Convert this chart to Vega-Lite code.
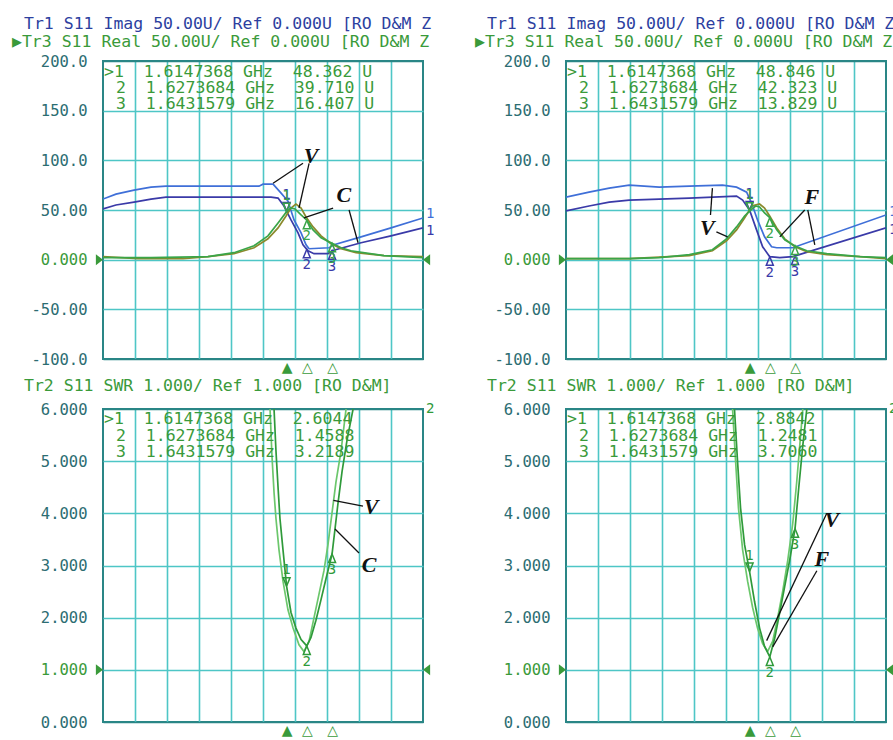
{
  "$schema": "https://vega.github.io/schema/vega-lite/v6.json",
  "background": "white",
  "padding": {"left": 11, "top": 15, "right": 0, "bottom": 0},
  "config": {
    "view": {"stroke": "#2a8686", "strokeWidth": 2},
    "axis": {"ticks": false, "domain": false, "gridWidth": 1.6, "gridOpacity": 1, "gridColor": "#4ec6c6", "labelFont": "DejaVu Sans Mono", "labelFontSize": 15.5, "labelFlush": false, "labelOverlap": false},
    "title": {"anchor": "start", "frame": "group", "dx": -91, "offset": 4, "font": "DejaVu Sans Mono", "fontSize": 16.5, "fontWeight": "normal", "color": "#2d3f9f", "subtitleFont": "DejaVu Sans Mono", "subtitleFontSize": 16.5, "subtitleFontWeight": "normal", "subtitleColor": "#3a9a3a", "subtitlePadding": 1},
    "text": {"font": "DejaVu Sans Mono"}
  },
  "datasets": {
    "traces": [
      {"p":"L1","s":"Imag V","f":1.5,"v":61},{"p":"L1","s":"Imag V","f":1.5081,"v":66},{"p":"L1","s":"Imag V","f":1.5194,"v":70},{"p":"L1","s":"Imag V","f":1.53,"v":73},{"p":"L1","s":"Imag V","f":1.5394,"v":74},{"p":"L1","s":"Imag V","f":1.5613,"v":74},{"p":"L1","s":"Imag V","f":1.5975,"v":74},{"p":"L1","s":"Imag V","f":1.6,"v":76},{"p":"L1","s":"Imag V","f":1.6063,"v":76},{"p":"L1","s":"Imag V","f":1.6113,"v":67},{"p":"L1","s":"Imag V","f":1.6156,"v":59},{"p":"L1","s":"Imag V","f":1.6194,"v":40},{"p":"L1","s":"Imag V","f":1.6238,"v":27},{"p":"L1","s":"Imag V","f":1.6269,"v":15},{"p":"L1","s":"Imag V","f":1.6288,"v":11},{"p":"L1","s":"Imag V","f":1.6413,"v":12},{"p":"L1","s":"Imag V","f":1.6444,"v":15},{"p":"L1","s":"Imag V","f":1.6613,"v":23},{"p":"L1","s":"Imag V","f":1.68,"v":32},{"p":"L1","s":"Imag V","f":1.7,"v":42},
      {"p":"L1","s":"Imag C","f":1.5,"v":51},{"p":"L1","s":"Imag C","f":1.5081,"v":55},{"p":"L1","s":"Imag C","f":1.5194,"v":58},{"p":"L1","s":"Imag C","f":1.53,"v":61},{"p":"L1","s":"Imag C","f":1.5394,"v":63},{"p":"L1","s":"Imag C","f":1.605,"v":63},{"p":"L1","s":"Imag C","f":1.6094,"v":62},{"p":"L1","s":"Imag C","f":1.6131,"v":54},{"p":"L1","s":"Imag C","f":1.6175,"v":40},{"p":"L1","s":"Imag C","f":1.6219,"v":27},{"p":"L1","s":"Imag C","f":1.625,"v":15},{"p":"L1","s":"Imag C","f":1.6281,"v":9},{"p":"L1","s":"Imag C","f":1.6319,"v":6},{"p":"L1","s":"Imag C","f":1.6406,"v":6},{"p":"L1","s":"Imag C","f":1.6431,"v":9},{"p":"L1","s":"Imag C","f":1.6613,"v":17},{"p":"L1","s":"Imag C","f":1.68,"v":24},{"p":"L1","s":"Imag C","f":1.7,"v":32},
      {"p":"L1","s":"Real V","f":1.5,"v":3},{"p":"L1","s":"Real V","f":1.5219,"v":1},{"p":"L1","s":"Real V","f":1.55,"v":1},{"p":"L1","s":"Real V","f":1.5656,"v":3},{"p":"L1","s":"Real V","f":1.5819,"v":6},{"p":"L1","s":"Real V","f":1.5944,"v":12},{"p":"L1","s":"Real V","f":1.6031,"v":21},{"p":"L1","s":"Real V","f":1.6094,"v":32},{"p":"L1","s":"Real V","f":1.6144,"v":44},{"p":"L1","s":"Real V","f":1.6175,"v":52},{"p":"L1","s":"Real V","f":1.6206,"v":56},{"p":"L1","s":"Real V","f":1.6238,"v":52},{"p":"L1","s":"Real V","f":1.6269,"v":43},{"p":"L1","s":"Real V","f":1.6313,"v":33},{"p":"L1","s":"Real V","f":1.6363,"v":24},{"p":"L1","s":"Real V","f":1.6425,"v":16},{"p":"L1","s":"Real V","f":1.6488,"v":11},{"p":"L1","s":"Real V","f":1.6581,"v":7},{"p":"L1","s":"Real V","f":1.6756,"v":4},{"p":"L1","s":"Real V","f":1.7,"v":3},
      {"p":"L1","s":"Real C","f":1.5,"v":2},{"p":"L1","s":"Real C","f":1.53,"v":2},{"p":"L1","s":"Real C","f":1.5656,"v":3},{"p":"L1","s":"Real C","f":1.5819,"v":7},{"p":"L1","s":"Real C","f":1.5944,"v":14},{"p":"L1","s":"Real C","f":1.6031,"v":24},{"p":"L1","s":"Real C","f":1.6094,"v":37},{"p":"L1","s":"Real C","f":1.6147368,"v":48.362},{"p":"L1","s":"Real C","f":1.6175,"v":52},{"p":"L1","s":"Real C","f":1.62,"v":51},{"p":"L1","s":"Real C","f":1.6238,"v":45},{"p":"L1","s":"Real C","f":1.6273684,"v":39.71},{"p":"L1","s":"Real C","f":1.6313,"v":30},{"p":"L1","s":"Real C","f":1.6363,"v":22},{"p":"L1","s":"Real C","f":1.6431579,"v":16.407},{"p":"L1","s":"Real C","f":1.6488,"v":12},{"p":"L1","s":"Real C","f":1.655,"v":9},{"p":"L1","s":"Real C","f":1.6756,"v":4},{"p":"L1","s":"Real C","f":1.7,"v":2},
      {"p":"L2","s":"SWR V","f":1.6044,"v":6.0},{"p":"L2","s":"SWR V","f":1.6056,"v":5.1},{"p":"L2","s":"SWR V","f":1.6069,"v":4.4},{"p":"L2","s":"SWR V","f":1.6081,"v":3.9},{"p":"L2","s":"SWR V","f":1.61,"v":3.3},{"p":"L2","s":"SWR V","f":1.6125,"v":2.7},{"p":"L2","s":"SWR V","f":1.6156,"v":2.15},{"p":"L2","s":"SWR V","f":1.6188,"v":1.8},{"p":"L2","s":"SWR V","f":1.6225,"v":1.48},{"p":"L2","s":"SWR V","f":1.6256,"v":1.35},{"p":"L2","s":"SWR V","f":1.6288,"v":1.55},{"p":"L2","s":"SWR V","f":1.6319,"v":2.0},{"p":"L2","s":"SWR V","f":1.635,"v":2.45},{"p":"L2","s":"SWR V","f":1.6381,"v":2.9},{"p":"L2","s":"SWR V","f":1.6406,"v":3.4},{"p":"L2","s":"SWR V","f":1.6431,"v":4.0},{"p":"L2","s":"SWR V","f":1.6456,"v":4.6},{"p":"L2","s":"SWR V","f":1.6488,"v":5.2},{"p":"L2","s":"SWR V","f":1.6519,"v":6.0},
      {"p":"L2","s":"SWR C","f":1.6069,"v":6.0},{"p":"L2","s":"SWR C","f":1.6081,"v":5.2},{"p":"L2","s":"SWR C","f":1.6094,"v":4.5},{"p":"L2","s":"SWR C","f":1.6106,"v":3.9},{"p":"L2","s":"SWR C","f":1.6125,"v":3.3},{"p":"L2","s":"SWR C","f":1.6147368,"v":2.6044},{"p":"L2","s":"SWR C","f":1.6175,"v":2.1},{"p":"L2","s":"SWR C","f":1.6206,"v":1.8},{"p":"L2","s":"SWR C","f":1.6238,"v":1.58},{"p":"L2","s":"SWR C","f":1.6273684,"v":1.4588},{"p":"L2","s":"SWR C","f":1.63,"v":1.62},{"p":"L2","s":"SWR C","f":1.6331,"v":1.95},{"p":"L2","s":"SWR C","f":1.6363,"v":2.35},{"p":"L2","s":"SWR C","f":1.6394,"v":2.75},{"p":"L2","s":"SWR C","f":1.6431579,"v":3.2189},{"p":"L2","s":"SWR C","f":1.645,"v":3.7},{"p":"L2","s":"SWR C","f":1.6469,"v":4.2},{"p":"L2","s":"SWR C","f":1.6494,"v":4.8},{"p":"L2","s":"SWR C","f":1.6525,"v":5.4},{"p":"L2","s":"SWR C","f":1.6563,"v":6.0},
      {"p":"R1","s":"Imag V","f":1.5,"v":63},{"p":"R1","s":"Imag V","f":1.5144,"v":68},{"p":"R1","s":"Imag V","f":1.527,"v":72},{"p":"R1","s":"Imag V","f":1.5395,"v":75},{"p":"R1","s":"Imag V","f":1.5583,"v":73},{"p":"R1","s":"Imag V","f":1.5771,"v":74},{"p":"R1","s":"Imag V","f":1.5978,"v":75},{"p":"R1","s":"Imag V","f":1.6066,"v":73},{"p":"R1","s":"Imag V","f":1.6129,"v":68},{"p":"R1","s":"Imag V","f":1.616,"v":57},{"p":"R1","s":"Imag V","f":1.6197,"v":40},{"p":"R1","s":"Imag V","f":1.6241,"v":23},{"p":"R1","s":"Imag V","f":1.6285,"v":13},{"p":"R1","s":"Imag V","f":1.6317,"v":12},{"p":"R1","s":"Imag V","f":1.6417,"v":12},{"p":"R1","s":"Imag V","f":1.7,"v":45},
      {"p":"R1","s":"Imag F","f":1.5,"v":49},{"p":"R1","s":"Imag F","f":1.5144,"v":54},{"p":"R1","s":"Imag F","f":1.527,"v":58},{"p":"R1","s":"Imag F","f":1.5395,"v":60},{"p":"R1","s":"Imag F","f":1.5771,"v":62},{"p":"R1","s":"Imag F","f":1.6066,"v":64},{"p":"R1","s":"Imag F","f":1.6104,"v":60},{"p":"R1","s":"Imag F","f":1.6147,"v":50},{"p":"R1","s":"Imag F","f":1.6191,"v":30},{"p":"R1","s":"Imag F","f":1.6229,"v":13},{"p":"R1","s":"Imag F","f":1.6273,"v":3},{"p":"R1","s":"Imag F","f":1.6336,"v":2},{"p":"R1","s":"Imag F","f":1.6417,"v":3},{"p":"R1","s":"Imag F","f":1.7,"v":32},
      {"p":"R1","s":"Real V","f":1.5,"v":1},{"p":"R1","s":"Real V","f":1.5395,"v":1},{"p":"R1","s":"Real V","f":1.5771,"v":4},{"p":"R1","s":"Real V","f":1.5915,"v":9},{"p":"R1","s":"Real V","f":1.6003,"v":19},{"p":"R1","s":"Real V","f":1.6066,"v":30},{"p":"R1","s":"Real V","f":1.6116,"v":42},{"p":"R1","s":"Real V","f":1.6147,"v":50},{"p":"R1","s":"Real V","f":1.616,"v":54},{"p":"R1","s":"Real V","f":1.621,"v":56},{"p":"R1","s":"Real V","f":1.6241,"v":52},{"p":"R1","s":"Real V","f":1.6273,"v":44},{"p":"R1","s":"Real V","f":1.6317,"v":32},{"p":"R1","s":"Real V","f":1.6367,"v":21},{"p":"R1","s":"Real V","f":1.6431,"v":13},{"p":"R1","s":"Real V","f":1.6505,"v":8},{"p":"R1","s":"Real V","f":1.663,"v":5},{"p":"R1","s":"Real V","f":1.6837,"v":3},{"p":"R1","s":"Real V","f":1.7,"v":1},
      {"p":"R1","s":"Real F","f":1.5,"v":1},{"p":"R1","s":"Real F","f":1.5395,"v":1},{"p":"R1","s":"Real F","f":1.5583,"v":2},{"p":"R1","s":"Real F","f":1.5771,"v":5},{"p":"R1","s":"Real F","f":1.5915,"v":10},{"p":"R1","s":"Real F","f":1.6003,"v":21},{"p":"R1","s":"Real F","f":1.6066,"v":33},{"p":"R1","s":"Real F","f":1.6116,"v":44},{"p":"R1","s":"Real F","f":1.6147368,"v":48.846},{"p":"R1","s":"Real F","f":1.6185,"v":54},{"p":"R1","s":"Real F","f":1.621,"v":53},{"p":"R1","s":"Real F","f":1.6241,"v":47},{"p":"R1","s":"Real F","f":1.6273684,"v":42.323},{"p":"R1","s":"Real F","f":1.6317,"v":30},{"p":"R1","s":"Real F","f":1.6367,"v":20},{"p":"R1","s":"Real F","f":1.6431579,"v":13.829},{"p":"R1","s":"Real F","f":1.6505,"v":9},{"p":"R1","s":"Real F","f":1.663,"v":6},{"p":"R1","s":"Real F","f":1.6837,"v":3},{"p":"R1","s":"Real F","f":1.7,"v":2},
      {"p":"R2","s":"SWR V","f":1.6041,"v":6.0},{"p":"R2","s":"SWR V","f":1.606,"v":5.0},{"p":"R2","s":"SWR V","f":1.6078,"v":4.1},{"p":"R2","s":"SWR V","f":1.6104,"v":3.3},{"p":"R2","s":"SWR V","f":1.6135,"v":2.7},{"p":"R2","s":"SWR V","f":1.6166,"v":2.2},{"p":"R2","s":"SWR V","f":1.6197,"v":1.8},{"p":"R2","s":"SWR V","f":1.6229,"v":1.5},{"p":"R2","s":"SWR V","f":1.626,"v":1.35},{"p":"R2","s":"SWR V","f":1.6292,"v":1.55},{"p":"R2","s":"SWR V","f":1.6323,"v":2.0},{"p":"R2","s":"SWR V","f":1.6354,"v":2.5},{"p":"R2","s":"SWR V","f":1.6386,"v":3.1},{"p":"R2","s":"SWR V","f":1.6417,"v":3.8},{"p":"R2","s":"SWR V","f":1.6442,"v":4.6},{"p":"R2","s":"SWR V","f":1.6461,"v":5.3},{"p":"R2","s":"SWR V","f":1.648,"v":6.0},
      {"p":"R2","s":"SWR F","f":1.6053,"v":6.0},{"p":"R2","s":"SWR F","f":1.6072,"v":5.0},{"p":"R2","s":"SWR F","f":1.6091,"v":4.1},{"p":"R2","s":"SWR F","f":1.6116,"v":3.4},{"p":"R2","s":"SWR F","f":1.6147368,"v":2.8842},{"p":"R2","s":"SWR F","f":1.6179,"v":2.3},{"p":"R2","s":"SWR F","f":1.621,"v":1.8},{"p":"R2","s":"SWR F","f":1.6241,"v":1.45},{"p":"R2","s":"SWR F","f":1.6273684,"v":1.2481},{"p":"R2","s":"SWR F","f":1.6304,"v":1.6},{"p":"R2","s":"SWR F","f":1.6336,"v":2.1},{"p":"R2","s":"SWR F","f":1.6367,"v":2.6},{"p":"R2","s":"SWR F","f":1.6398,"v":3.1},{"p":"R2","s":"SWR F","f":1.6431579,"v":3.706},{"p":"R2","s":"SWR F","f":1.6455,"v":4.5},{"p":"R2","s":"SWR F","f":1.648,"v":5.3},{"p":"R2","s":"SWR F","f":1.6505,"v":6.0}
    ],
    "markers": [
      {"p":"L1","s":"Imag C","m":1,"f":1.6147368,"v":48.9,"read":false,"unit":""},
      {"p":"L1","s":"Imag C","m":2,"f":1.6273684,"v":10.4,"read":false,"unit":""},
      {"p":"L1","s":"Imag C","m":3,"f":1.6431579,"v":9.0,"read":false,"unit":""},
      {"p":"L1","s":"Real C","m":1,"f":1.6147368,"v":48.362,"read":true,"unit":"\u00a0U"},
      {"p":"L1","s":"Real C","m":2,"f":1.6273684,"v":39.71,"read":true,"unit":"\u00a0U"},
      {"p":"L1","s":"Real C","m":3,"f":1.6431579,"v":16.407,"read":true,"unit":"\u00a0U"},
      {"p":"L2","s":"SWR C","m":1,"f":1.6147368,"v":2.6044,"read":true,"unit":""},
      {"p":"L2","s":"SWR C","m":2,"f":1.6273684,"v":1.4588,"read":true,"unit":""},
      {"p":"L2","s":"SWR C","m":3,"f":1.6431579,"v":3.2189,"read":true,"unit":""},
      {"p":"R1","s":"Imag F","m":1,"f":1.6147368,"v":50,"read":false,"unit":""},
      {"p":"R1","s":"Imag F","m":2,"f":1.6273684,"v":3,"read":false,"unit":""},
      {"p":"R1","s":"Imag F","m":3,"f":1.6431579,"v":3.7,"read":false,"unit":""},
      {"p":"R1","s":"Real F","m":1,"f":1.6147368,"v":48.846,"read":true,"unit":"\u00a0U"},
      {"p":"R1","s":"Real F","m":2,"f":1.6273684,"v":42.323,"read":true,"unit":"\u00a0U"},
      {"p":"R1","s":"Real F","m":3,"f":1.6431579,"v":13.829,"read":true,"unit":"\u00a0U"},
      {"p":"R2","s":"SWR F","m":1,"f":1.6147368,"v":2.8842,"read":true,"unit":""},
      {"p":"R2","s":"SWR F","m":2,"f":1.6273684,"v":1.2481,"read":true,"unit":""},
      {"p":"R2","s":"SWR F","m":3,"f":1.6431579,"v":3.706,"read":true,"unit":""}
    ],
    "notes": [
      {"p":"L1","lab":"V","f":1.63,"v":104},{"p":"L1","lab":"C","f":1.6506,"v":65},
      {"p":"L2","lab":"V","f":1.6675,"v":4.12},{"p":"L2","lab":"C","f":1.6663,"v":3.01},
      {"p":"R1","lab":"V","f":1.5884,"v":32},{"p":"R1","lab":"F","f":1.6536,"v":63},
      {"p":"R2","lab":"V","f":1.6662,"v":3.87},{"p":"R2","lab":"F","f":1.6599,"v":3.13}
    ],
    "leaders": [
      {"p":"L1","f":1.625,"v":97,"f2":1.6063,"v2":77},{"p":"L1","f":1.6288,"v":97,"f2":1.6225,"v2":52},
      {"p":"L1","f":1.6438,"v":52,"f2":1.6256,"v2":42},{"p":"L1","f":1.6538,"v":50,"f2":1.6594,"v2":17},
      {"p":"L2","f":1.644,"v":4.25,"f2":1.6625,"v2":4.14},{"p":"L2","f":1.645,"v":3.7,"f2":1.66,"v2":3.24},
      {"p":"R1","f":1.5903,"v":45,"f2":1.5915,"v2":72},{"p":"R1","f":1.594,"v":28,"f2":1.601,"v2":23},
      {"p":"R1","f":1.6492,"v":50,"f2":1.6336,"v2":23},{"p":"R1","f":1.6511,"v":50,"f2":1.6555,"v2":15},
      {"p":"R2","f":1.663,"v":4.0,"f2":1.6254,"v2":1.56},{"p":"R2","f":1.6568,"v":2.9,"f2":1.6292,"v2":1.44}
    ],
    "refs": [
      {"p":"L1","f":1.5,"v":0,"dir":"left"},{"p":"L1","f":1.7,"v":0,"dir":"right"},
      {"p":"L2","f":1.5,"v":1,"dir":"left"},{"p":"L2","f":1.7,"v":1,"dir":"right"},
      {"p":"R1","f":1.5,"v":0,"dir":"left"},{"p":"R1","f":1.7,"v":0,"dir":"right"},
      {"p":"R2","f":1.5,"v":1,"dir":"left"},{"p":"R2","f":1.7,"v":1,"dir":"right"}
    ],
    "ends": [
      {"p":"L1","f":1.7,"v":46,"lab":"1","s":"Imag V"},{"p":"L1","f":1.7,"v":29,"lab":"1","s":"Imag C"},
      {"p":"L2","f":1.7,"v":6,"lab":"2","s":"SWR C"},
      {"p":"R1","f":1.7,"v":48,"lab":"1","s":"Imag V"},{"p":"R1","f":1.7,"v":30,"lab":"1","s":"Imag F"},
      {"p":"R2","f":1.7,"v":6,"lab":"2","s":"SWR F"}
    ]
  },
  "spacing": 38,
  "hconcat": [
    {
      "spacing": 1,
      "vconcat": [
        {
          "width": 320, "height": 298,
          "title": {"text": "\u2800Tr1 S11 Imag 50.00U/ Ref 0.000U [RO D&M Z", "subtitle": "▶Tr3 S11 Real 50.00U/ Ref 0.000U [RO D&M Z"},
          "encoding": {
            "x": {"field": "f", "type": "quantitative", "scale": {"domain": [1.5, 1.7], "nice": false, "zero": false}, "axis": null},
            "y": {"field": "v", "type": "quantitative", "scale": {"domain": [-100, 200], "nice": false, "zero": false}, "axis": null}
          },
          "layer": [
            {"data": {"name": "traces"}, "transform": [{"filter": "datum.p === 'L1'"}],
             "mark": {"type": "line", "strokeWidth": 1.7, "clip": true},
             "encoding": {
               "x": {"field": "f", "type": "quantitative", "scale": {"domain": [1.5, 1.7], "nice": false, "zero": false}, "axis": {"orient": "bottom", "title": null, "values": [1.52,1.54,1.56,1.58,1.6,1.62,1.64,1.66,1.68], "grid": true, "labels": false}},
               "y": {"field": "v", "type": "quantitative", "scale": {"domain": [-100, 200], "nice": false, "zero": false}, "axis": {"orient": "left", "title": null, "values": [-100,-50,0,50,100,150,200], "grid": true, "gridColor": {"condition": {"test": "datum.value === 200 || datum.value === -100", "value": "#2a8686"}, "value": "#4ec6c6"}, "labelExpr": "datum.value === 0 ? '0.000' : replace(format(datum.value, abs(datum.value) >= 100 ? '.1f' : '.2f'), '\u2212', '-')", "labelColor": {"condition": {"test": "datum.value === 0", "value": "#3a9a3a"}, "value": "#2c6d72"}, "labelPadding": 16}},
               "color": {"field": "s", "type": "nominal", "legend": null, "scale": {"domain": ["Imag V","Imag C","Imag F","Real V","Real C","Real F","SWR V","SWR C","SWR F"], "range": ["#3f6fd8","#3a3aa8","#3a3aa8","#8b8a2c","#3aa548","#3aa548","#6cc76c","#2f9a3a","#2f9a3a"]}}
             }},
            {"data": {"name": "leaders"}, "transform": [{"filter": "datum.p === 'L1'"}],
             "mark": {"type": "rule", "color": "#111111", "strokeWidth": 1.3},
             "encoding": {"x2": {"field": "f2"}, "y2": {"field": "v2"}}},
            {"data": {"name": "notes"}, "transform": [{"filter": "datum.p === 'L1'"}],
             "mark": {"type": "text", "font": "Liberation Serif", "fontStyle": "italic", "fontWeight": "bold", "fontSize": 22, "color": "#111111"},
             "encoding": {"text": {"field": "lab", "type": "nominal"}}},
            {"data": {"name": "refs"}, "transform": [{"filter": "datum.p === 'L1'"}],
             "mark": {"type": "point", "filled": true, "size": 121, "opacity": 1, "color": "#3a9a3a"},
             "encoding": {"shape": {"field": "dir", "type": "nominal", "legend": null, "scale": {"domain": ["down","up","left","right"], "range": ["M0,0L-0.7,-1.7L0.7,-1.7Z","M0,0L-0.7,1.7L0.7,1.7Z","M0,0L-1.3,-1L-1.3,1Z","M0,0L1.3,-1L1.3,1Z"]}}}},
            {"data": {"name": "ends"}, "transform": [{"filter": "datum.p === 'L1'"}],
             "mark": {"type": "text", "align": "left", "baseline": "middle", "dx": 3, "fontSize": 14},
             "encoding": {"text": {"field": "lab", "type": "nominal"}, "color": {"field": "s", "type": "nominal", "legend": null, "scale": {"domain": ["Imag V","Imag C","Imag F","Real V","Real C","Real F","SWR V","SWR C","SWR F"], "range": ["#3f6fd8","#3a3aa8","#3a3aa8","#8b8a2c","#3aa548","#3aa548","#6cc76c","#2f9a3a","#2f9a3a"]}}}},
            {"data": {"name": "markers"}, "transform": [{"filter": "datum.p === 'L1'"}, {"calculate": "datum.m === 1 ? 'down' : 'up'", "as": "dir"}],
             "mark": {"type": "point", "filled": false, "size": 100, "strokeWidth": 1.5, "opacity": 1},
             "encoding": {
               "x": {"field": "f", "type": "quantitative", "scale": {"domain": [1.5, 1.7], "nice": false, "zero": false}, "axis": {"orient": "bottom", "title": null, "values": [1.6147368, 1.6273684, 1.6431579], "grid": false, "labelExpr": "datum.value < 1.62 ? '▲' : '△'", "labelFont": "DejaVu Sans", "labelFontSize": 14, "labelColor": "#3a9a3a", "labelPadding": 1}},
               "color": {"field": "s", "type": "nominal", "legend": null, "scale": {"domain": ["Imag V","Imag C","Imag F","Real V","Real C","Real F","SWR V","SWR C","SWR F"], "range": ["#3f6fd8","#3a3aa8","#3a3aa8","#8b8a2c","#3aa548","#3aa548","#6cc76c","#2f9a3a","#2f9a3a"]}},
               "shape": {"field": "dir", "type": "nominal", "legend": null, "scale": {"domain": ["down","up","left","right"], "range": ["M0,0L-0.7,-1.7L0.7,-1.7Z","M0,0L-0.7,1.7L0.7,1.7Z","M0,0L-1.3,-1L-1.3,1Z","M0,0L1.3,-1L1.3,1Z"]}}
             }},
            {"data": {"name": "markers"}, "transform": [{"filter": "datum.p === 'L1' && datum.m === 1"}],
             "mark": {"type": "text", "baseline": "bottom", "dy": -9, "fontSize": 14},
             "encoding": {"text": {"field": "m", "type": "nominal"}, "color": {"field": "s", "type": "nominal", "legend": null, "scale": {"domain": ["Imag V","Imag C","Imag F","Real V","Real C","Real F","SWR V","SWR C","SWR F"], "range": ["#3f6fd8","#3a3aa8","#3a3aa8","#8b8a2c","#3aa548","#3aa548","#6cc76c","#2f9a3a","#2f9a3a"]}}}},
            {"data": {"name": "markers"}, "transform": [{"filter": "datum.p === 'L1' && datum.m !== 1"}],
             "mark": {"type": "text", "baseline": "top", "dy": 9, "fontSize": 14},
             "encoding": {"text": {"field": "m", "type": "nominal"}, "color": {"field": "s", "type": "nominal", "legend": null, "scale": {"domain": ["Imag V","Imag C","Imag F","Real V","Real C","Real F","SWR V","SWR C","SWR F"], "range": ["#3f6fd8","#3a3aa8","#3a3aa8","#8b8a2c","#3aa548","#3aa548","#6cc76c","#2f9a3a","#2f9a3a"]}}}},
            {"data": {"name": "markers"}, "transform": [{"filter": "datum.p === 'L1' && datum.read && datum.m === 1"}, {"calculate": "(datum.m === 1 ? '>' : '\u2800') + datum.m + '\u00a0\u00a0' + format(datum.f, '.7f') + '\u00a0GHz\u00a0\u00a0' + format(datum.v, '.5r') + datum.unit", "as": "txt"}],
             "mark": {"type": "text", "align": "left", "baseline": "middle", "dx": 1, "dy": 11, "fontSize": 16.5, "color": "#3a9a3a"},
             "encoding": {"x": {"datum": 1.5, "type": "quantitative", "axis": null}, "y": {"datum": 200, "type": "quantitative", "axis": null}, "text": {"field": "txt", "type": "nominal"}}},
            {"data": {"name": "markers"}, "transform": [{"filter": "datum.p === 'L1' && datum.read && datum.m === 2"}, {"calculate": "(datum.m === 1 ? '>' : '\u2800') + datum.m + '\u00a0\u00a0' + format(datum.f, '.7f') + '\u00a0GHz\u00a0\u00a0' + format(datum.v, '.5r') + datum.unit", "as": "txt"}],
             "mark": {"type": "text", "align": "left", "baseline": "middle", "dx": 1, "dy": 27, "fontSize": 16.5, "color": "#3a9a3a"},
             "encoding": {"x": {"datum": 1.5, "type": "quantitative", "axis": null}, "y": {"datum": 200, "type": "quantitative", "axis": null}, "text": {"field": "txt", "type": "nominal"}}},
            {"data": {"name": "markers"}, "transform": [{"filter": "datum.p === 'L1' && datum.read && datum.m === 3"}, {"calculate": "(datum.m === 1 ? '>' : '\u2800') + datum.m + '\u00a0\u00a0' + format(datum.f, '.7f') + '\u00a0GHz\u00a0\u00a0' + format(datum.v, '.5r') + datum.unit", "as": "txt"}],
             "mark": {"type": "text", "align": "left", "baseline": "middle", "dx": 1, "dy": 43, "fontSize": 16.5, "color": "#3a9a3a"},
             "encoding": {"x": {"datum": 1.5, "type": "quantitative", "axis": null}, "y": {"datum": 200, "type": "quantitative", "axis": null}, "text": {"field": "txt", "type": "nominal"}}}
          ],
          "resolve": {"axis": {"x": "independent", "y": "independent"}}
        },
        {
          "width": 320, "height": 313,
          "title": {"text": "\u2800Tr2 S11 SWR 1.000/ Ref 1.000 [RO D&M]", "color": "#3a9a3a", "offset": 8},
          "encoding": {
            "x": {"field": "f", "type": "quantitative", "scale": {"domain": [1.5, 1.7], "nice": false, "zero": false}, "axis": null},
            "y": {"field": "v", "type": "quantitative", "scale": {"domain": [0, 6], "nice": false, "zero": false}, "axis": null}
          },
          "layer": [
            {"data": {"name": "traces"}, "transform": [{"filter": "datum.p === 'L2'"}],
             "mark": {"type": "line", "strokeWidth": 1.7, "clip": true},
             "encoding": {
               "x": {"field": "f", "type": "quantitative", "scale": {"domain": [1.5, 1.7], "nice": false, "zero": false}, "axis": {"orient": "bottom", "title": null, "values": [1.52,1.54,1.56,1.58,1.6,1.62,1.64,1.66,1.68], "grid": true, "labels": false}},
               "y": {"field": "v", "type": "quantitative", "scale": {"domain": [0, 6], "nice": false, "zero": false}, "axis": {"orient": "left", "title": null, "values": [0,1,2,3,4,5,6], "grid": true, "gridColor": {"condition": {"test": "datum.value === 0 || datum.value === 6", "value": "#2a8686"}, "value": "#4ec6c6"}, "labelExpr": "format(datum.value, '.3f')", "labelColor": {"condition": {"test": "datum.value === 1", "value": "#3a9a3a"}, "value": "#2c6d72"}, "labelPadding": 16}},
               "color": {"field": "s", "type": "nominal", "legend": null, "scale": {"domain": ["Imag V","Imag C","Imag F","Real V","Real C","Real F","SWR V","SWR C","SWR F"], "range": ["#3f6fd8","#3a3aa8","#3a3aa8","#8b8a2c","#3aa548","#3aa548","#6cc76c","#2f9a3a","#2f9a3a"]}}
             }},
            {"data": {"name": "leaders"}, "transform": [{"filter": "datum.p === 'L2'"}],
             "mark": {"type": "rule", "color": "#111111", "strokeWidth": 1.3},
             "encoding": {"x2": {"field": "f2"}, "y2": {"field": "v2"}}},
            {"data": {"name": "notes"}, "transform": [{"filter": "datum.p === 'L2'"}],
             "mark": {"type": "text", "font": "Liberation Serif", "fontStyle": "italic", "fontWeight": "bold", "fontSize": 22, "color": "#111111"},
             "encoding": {"text": {"field": "lab", "type": "nominal"}}},
            {"data": {"name": "refs"}, "transform": [{"filter": "datum.p === 'L2'"}],
             "mark": {"type": "point", "filled": true, "size": 121, "opacity": 1, "color": "#3a9a3a"},
             "encoding": {"shape": {"field": "dir", "type": "nominal", "legend": null, "scale": {"domain": ["down","up","left","right"], "range": ["M0,0L-0.7,-1.7L0.7,-1.7Z","M0,0L-0.7,1.7L0.7,1.7Z","M0,0L-1.3,-1L-1.3,1Z","M0,0L1.3,-1L1.3,1Z"]}}}},
            {"data": {"name": "ends"}, "transform": [{"filter": "datum.p === 'L2'"}],
             "mark": {"type": "text", "align": "left", "baseline": "middle", "dx": 3, "fontSize": 14},
             "encoding": {"text": {"field": "lab", "type": "nominal"}, "color": {"field": "s", "type": "nominal", "legend": null, "scale": {"domain": ["Imag V","Imag C","Imag F","Real V","Real C","Real F","SWR V","SWR C","SWR F"], "range": ["#3f6fd8","#3a3aa8","#3a3aa8","#8b8a2c","#3aa548","#3aa548","#6cc76c","#2f9a3a","#2f9a3a"]}}}},
            {"data": {"name": "markers"}, "transform": [{"filter": "datum.p === 'L2'"}, {"calculate": "datum.m === 1 ? 'down' : 'up'", "as": "dir"}],
             "mark": {"type": "point", "filled": false, "size": 100, "strokeWidth": 1.5, "opacity": 1},
             "encoding": {
               "x": {"field": "f", "type": "quantitative", "scale": {"domain": [1.5, 1.7], "nice": false, "zero": false}, "axis": {"orient": "bottom", "title": null, "values": [1.6147368, 1.6273684, 1.6431579], "grid": false, "labelExpr": "datum.value < 1.62 ? '▲' : '△'", "labelFont": "DejaVu Sans", "labelFontSize": 14, "labelColor": "#3a9a3a", "labelPadding": 1}},
               "color": {"field": "s", "type": "nominal", "legend": null, "scale": {"domain": ["Imag V","Imag C","Imag F","Real V","Real C","Real F","SWR V","SWR C","SWR F"], "range": ["#3f6fd8","#3a3aa8","#3a3aa8","#8b8a2c","#3aa548","#3aa548","#6cc76c","#2f9a3a","#2f9a3a"]}},
               "shape": {"field": "dir", "type": "nominal", "legend": null, "scale": {"domain": ["down","up","left","right"], "range": ["M0,0L-0.7,-1.7L0.7,-1.7Z","M0,0L-0.7,1.7L0.7,1.7Z","M0,0L-1.3,-1L-1.3,1Z","M0,0L1.3,-1L1.3,1Z"]}}
             }},
            {"data": {"name": "markers"}, "transform": [{"filter": "datum.p === 'L2' && datum.m === 1"}],
             "mark": {"type": "text", "baseline": "bottom", "dy": -9, "fontSize": 14},
             "encoding": {"text": {"field": "m", "type": "nominal"}, "color": {"field": "s", "type": "nominal", "legend": null, "scale": {"domain": ["Imag V","Imag C","Imag F","Real V","Real C","Real F","SWR V","SWR C","SWR F"], "range": ["#3f6fd8","#3a3aa8","#3a3aa8","#8b8a2c","#3aa548","#3aa548","#6cc76c","#2f9a3a","#2f9a3a"]}}}},
            {"data": {"name": "markers"}, "transform": [{"filter": "datum.p === 'L2' && datum.m !== 1"}],
             "mark": {"type": "text", "baseline": "top", "dy": 9, "fontSize": 14},
             "encoding": {"text": {"field": "m", "type": "nominal"}, "color": {"field": "s", "type": "nominal", "legend": null, "scale": {"domain": ["Imag V","Imag C","Imag F","Real V","Real C","Real F","SWR V","SWR C","SWR F"], "range": ["#3f6fd8","#3a3aa8","#3a3aa8","#8b8a2c","#3aa548","#3aa548","#6cc76c","#2f9a3a","#2f9a3a"]}}}},
            {"data": {"name": "markers"}, "transform": [{"filter": "datum.p === 'L2' && datum.read && datum.m === 1"}, {"calculate": "(datum.m === 1 ? '>' : '\u2800') + datum.m + '\u00a0\u00a0' + format(datum.f, '.7f') + '\u00a0GHz\u00a0\u00a0' + format(datum.v, '.5r') + datum.unit", "as": "txt"}],
             "mark": {"type": "text", "align": "left", "baseline": "middle", "dx": 1, "dy": 10, "fontSize": 16.5, "color": "#3a9a3a"},
             "encoding": {"x": {"datum": 1.5, "type": "quantitative", "axis": null}, "y": {"datum": 6, "type": "quantitative", "axis": null}, "text": {"field": "txt", "type": "nominal"}}},
            {"data": {"name": "markers"}, "transform": [{"filter": "datum.p === 'L2' && datum.read && datum.m === 2"}, {"calculate": "(datum.m === 1 ? '>' : '\u2800') + datum.m + '\u00a0\u00a0' + format(datum.f, '.7f') + '\u00a0GHz\u00a0\u00a0' + format(datum.v, '.5r') + datum.unit", "as": "txt"}],
             "mark": {"type": "text", "align": "left", "baseline": "middle", "dx": 1, "dy": 27, "fontSize": 16.5, "color": "#3a9a3a"},
             "encoding": {"x": {"datum": 1.5, "type": "quantitative", "axis": null}, "y": {"datum": 6, "type": "quantitative", "axis": null}, "text": {"field": "txt", "type": "nominal"}}},
            {"data": {"name": "markers"}, "transform": [{"filter": "datum.p === 'L2' && datum.read && datum.m === 3"}, {"calculate": "(datum.m === 1 ? '>' : '\u2800') + datum.m + '\u00a0\u00a0' + format(datum.f, '.7f') + '\u00a0GHz\u00a0\u00a0' + format(datum.v, '.5r') + datum.unit", "as": "txt"}],
             "mark": {"type": "text", "align": "left", "baseline": "middle", "dx": 1, "dy": 43, "fontSize": 16.5, "color": "#3a9a3a"},
             "encoding": {"x": {"datum": 1.5, "type": "quantitative", "axis": null}, "y": {"datum": 6, "type": "quantitative", "axis": null}, "text": {"field": "txt", "type": "nominal"}}}
          ],
          "resolve": {"axis": {"x": "independent", "y": "independent"}}
        }
      ]
    },
    {
      "spacing": 1,
      "vconcat": [
        {
          "width": 320, "height": 298,
          "title": {"text": "\u2800Tr1 S11 Imag 50.00U/ Ref 0.000U [RO D&M Z", "subtitle": "▶Tr3 S11 Real 50.00U/ Ref 0.000U [RO D&M Z"},
          "encoding": {
            "x": {"field": "f", "type": "quantitative", "scale": {"domain": [1.5, 1.7], "nice": false, "zero": false}, "axis": null},
            "y": {"field": "v", "type": "quantitative", "scale": {"domain": [-100, 200], "nice": false, "zero": false}, "axis": null}
          },
          "layer": [
            {"data": {"name": "traces"}, "transform": [{"filter": "datum.p === 'R1'"}],
             "mark": {"type": "line", "strokeWidth": 1.7, "clip": true},
             "encoding": {
               "x": {"field": "f", "type": "quantitative", "scale": {"domain": [1.5, 1.7], "nice": false, "zero": false}, "axis": {"orient": "bottom", "title": null, "values": [1.52,1.54,1.56,1.58,1.6,1.62,1.64,1.66,1.68], "grid": true, "labels": false}},
               "y": {"field": "v", "type": "quantitative", "scale": {"domain": [-100, 200], "nice": false, "zero": false}, "axis": {"orient": "left", "title": null, "values": [-100,-50,0,50,100,150,200], "grid": true, "gridColor": {"condition": {"test": "datum.value === 200 || datum.value === -100", "value": "#2a8686"}, "value": "#4ec6c6"}, "labelExpr": "datum.value === 0 ? '0.000' : replace(format(datum.value, abs(datum.value) >= 100 ? '.1f' : '.2f'), '\u2212', '-')", "labelColor": {"condition": {"test": "datum.value === 0", "value": "#3a9a3a"}, "value": "#2c6d72"}, "labelPadding": 16}},
               "color": {"field": "s", "type": "nominal", "legend": null, "scale": {"domain": ["Imag V","Imag C","Imag F","Real V","Real C","Real F","SWR V","SWR C","SWR F"], "range": ["#3f6fd8","#3a3aa8","#3a3aa8","#8b8a2c","#3aa548","#3aa548","#6cc76c","#2f9a3a","#2f9a3a"]}}
             }},
            {"data": {"name": "leaders"}, "transform": [{"filter": "datum.p === 'R1'"}],
             "mark": {"type": "rule", "color": "#111111", "strokeWidth": 1.3},
             "encoding": {"x2": {"field": "f2"}, "y2": {"field": "v2"}}},
            {"data": {"name": "notes"}, "transform": [{"filter": "datum.p === 'R1'"}],
             "mark": {"type": "text", "font": "Liberation Serif", "fontStyle": "italic", "fontWeight": "bold", "fontSize": 22, "color": "#111111"},
             "encoding": {"text": {"field": "lab", "type": "nominal"}}},
            {"data": {"name": "refs"}, "transform": [{"filter": "datum.p === 'R1'"}],
             "mark": {"type": "point", "filled": true, "size": 121, "opacity": 1, "color": "#3a9a3a"},
             "encoding": {"shape": {"field": "dir", "type": "nominal", "legend": null, "scale": {"domain": ["down","up","left","right"], "range": ["M0,0L-0.7,-1.7L0.7,-1.7Z","M0,0L-0.7,1.7L0.7,1.7Z","M0,0L-1.3,-1L-1.3,1Z","M0,0L1.3,-1L1.3,1Z"]}}}},
            {"data": {"name": "ends"}, "transform": [{"filter": "datum.p === 'R1'"}],
             "mark": {"type": "text", "align": "left", "baseline": "middle", "dx": 3, "fontSize": 14},
             "encoding": {"text": {"field": "lab", "type": "nominal"}, "color": {"field": "s", "type": "nominal", "legend": null, "scale": {"domain": ["Imag V","Imag C","Imag F","Real V","Real C","Real F","SWR V","SWR C","SWR F"], "range": ["#3f6fd8","#3a3aa8","#3a3aa8","#8b8a2c","#3aa548","#3aa548","#6cc76c","#2f9a3a","#2f9a3a"]}}}},
            {"data": {"name": "markers"}, "transform": [{"filter": "datum.p === 'R1'"}, {"calculate": "datum.m === 1 ? 'down' : 'up'", "as": "dir"}],
             "mark": {"type": "point", "filled": false, "size": 100, "strokeWidth": 1.5, "opacity": 1},
             "encoding": {
               "x": {"field": "f", "type": "quantitative", "scale": {"domain": [1.5, 1.7], "nice": false, "zero": false}, "axis": {"orient": "bottom", "title": null, "values": [1.6147368, 1.6273684, 1.6431579], "grid": false, "labelExpr": "datum.value < 1.62 ? '▲' : '△'", "labelFont": "DejaVu Sans", "labelFontSize": 14, "labelColor": "#3a9a3a", "labelPadding": 1}},
               "color": {"field": "s", "type": "nominal", "legend": null, "scale": {"domain": ["Imag V","Imag C","Imag F","Real V","Real C","Real F","SWR V","SWR C","SWR F"], "range": ["#3f6fd8","#3a3aa8","#3a3aa8","#8b8a2c","#3aa548","#3aa548","#6cc76c","#2f9a3a","#2f9a3a"]}},
               "shape": {"field": "dir", "type": "nominal", "legend": null, "scale": {"domain": ["down","up","left","right"], "range": ["M0,0L-0.7,-1.7L0.7,-1.7Z","M0,0L-0.7,1.7L0.7,1.7Z","M0,0L-1.3,-1L-1.3,1Z","M0,0L1.3,-1L1.3,1Z"]}}
             }},
            {"data": {"name": "markers"}, "transform": [{"filter": "datum.p === 'R1' && datum.m === 1"}],
             "mark": {"type": "text", "baseline": "bottom", "dy": -9, "fontSize": 14},
             "encoding": {"text": {"field": "m", "type": "nominal"}, "color": {"field": "s", "type": "nominal", "legend": null, "scale": {"domain": ["Imag V","Imag C","Imag F","Real V","Real C","Real F","SWR V","SWR C","SWR F"], "range": ["#3f6fd8","#3a3aa8","#3a3aa8","#8b8a2c","#3aa548","#3aa548","#6cc76c","#2f9a3a","#2f9a3a"]}}}},
            {"data": {"name": "markers"}, "transform": [{"filter": "datum.p === 'R1' && datum.m !== 1"}],
             "mark": {"type": "text", "baseline": "top", "dy": 9, "fontSize": 14},
             "encoding": {"text": {"field": "m", "type": "nominal"}, "color": {"field": "s", "type": "nominal", "legend": null, "scale": {"domain": ["Imag V","Imag C","Imag F","Real V","Real C","Real F","SWR V","SWR C","SWR F"], "range": ["#3f6fd8","#3a3aa8","#3a3aa8","#8b8a2c","#3aa548","#3aa548","#6cc76c","#2f9a3a","#2f9a3a"]}}}},
            {"data": {"name": "markers"}, "transform": [{"filter": "datum.p === 'R1' && datum.read && datum.m === 1"}, {"calculate": "(datum.m === 1 ? '>' : '\u2800') + datum.m + '\u00a0\u00a0' + format(datum.f, '.7f') + '\u00a0GHz\u00a0\u00a0' + format(datum.v, '.5r') + datum.unit", "as": "txt"}],
             "mark": {"type": "text", "align": "left", "baseline": "middle", "dx": 1, "dy": 11, "fontSize": 16.5, "color": "#3a9a3a"},
             "encoding": {"x": {"datum": 1.5, "type": "quantitative", "axis": null}, "y": {"datum": 200, "type": "quantitative", "axis": null}, "text": {"field": "txt", "type": "nominal"}}},
            {"data": {"name": "markers"}, "transform": [{"filter": "datum.p === 'R1' && datum.read && datum.m === 2"}, {"calculate": "(datum.m === 1 ? '>' : '\u2800') + datum.m + '\u00a0\u00a0' + format(datum.f, '.7f') + '\u00a0GHz\u00a0\u00a0' + format(datum.v, '.5r') + datum.unit", "as": "txt"}],
             "mark": {"type": "text", "align": "left", "baseline": "middle", "dx": 1, "dy": 27, "fontSize": 16.5, "color": "#3a9a3a"},
             "encoding": {"x": {"datum": 1.5, "type": "quantitative", "axis": null}, "y": {"datum": 200, "type": "quantitative", "axis": null}, "text": {"field": "txt", "type": "nominal"}}},
            {"data": {"name": "markers"}, "transform": [{"filter": "datum.p === 'R1' && datum.read && datum.m === 3"}, {"calculate": "(datum.m === 1 ? '>' : '\u2800') + datum.m + '\u00a0\u00a0' + format(datum.f, '.7f') + '\u00a0GHz\u00a0\u00a0' + format(datum.v, '.5r') + datum.unit", "as": "txt"}],
             "mark": {"type": "text", "align": "left", "baseline": "middle", "dx": 1, "dy": 43, "fontSize": 16.5, "color": "#3a9a3a"},
             "encoding": {"x": {"datum": 1.5, "type": "quantitative", "axis": null}, "y": {"datum": 200, "type": "quantitative", "axis": null}, "text": {"field": "txt", "type": "nominal"}}}
          ],
          "resolve": {"axis": {"x": "independent", "y": "independent"}}
        },
        {
          "width": 320, "height": 313,
          "title": {"text": "\u2800Tr2 S11 SWR 1.000/ Ref 1.000 [RO D&M]", "color": "#3a9a3a", "offset": 8},
          "encoding": {
            "x": {"field": "f", "type": "quantitative", "scale": {"domain": [1.5, 1.7], "nice": false, "zero": false}, "axis": null},
            "y": {"field": "v", "type": "quantitative", "scale": {"domain": [0, 6], "nice": false, "zero": false}, "axis": null}
          },
          "layer": [
            {"data": {"name": "traces"}, "transform": [{"filter": "datum.p === 'R2'"}],
             "mark": {"type": "line", "strokeWidth": 1.7, "clip": true},
             "encoding": {
               "x": {"field": "f", "type": "quantitative", "scale": {"domain": [1.5, 1.7], "nice": false, "zero": false}, "axis": {"orient": "bottom", "title": null, "values": [1.52,1.54,1.56,1.58,1.6,1.62,1.64,1.66,1.68], "grid": true, "labels": false}},
               "y": {"field": "v", "type": "quantitative", "scale": {"domain": [0, 6], "nice": false, "zero": false}, "axis": {"orient": "left", "title": null, "values": [0,1,2,3,4,5,6], "grid": true, "gridColor": {"condition": {"test": "datum.value === 0 || datum.value === 6", "value": "#2a8686"}, "value": "#4ec6c6"}, "labelExpr": "format(datum.value, '.3f')", "labelColor": {"condition": {"test": "datum.value === 1", "value": "#3a9a3a"}, "value": "#2c6d72"}, "labelPadding": 16}},
               "color": {"field": "s", "type": "nominal", "legend": null, "scale": {"domain": ["Imag V","Imag C","Imag F","Real V","Real C","Real F","SWR V","SWR C","SWR F"], "range": ["#3f6fd8","#3a3aa8","#3a3aa8","#8b8a2c","#3aa548","#3aa548","#6cc76c","#2f9a3a","#2f9a3a"]}}
             }},
            {"data": {"name": "leaders"}, "transform": [{"filter": "datum.p === 'R2'"}],
             "mark": {"type": "rule", "color": "#111111", "strokeWidth": 1.3},
             "encoding": {"x2": {"field": "f2"}, "y2": {"field": "v2"}}},
            {"data": {"name": "notes"}, "transform": [{"filter": "datum.p === 'R2'"}],
             "mark": {"type": "text", "font": "Liberation Serif", "fontStyle": "italic", "fontWeight": "bold", "fontSize": 22, "color": "#111111"},
             "encoding": {"text": {"field": "lab", "type": "nominal"}}},
            {"data": {"name": "refs"}, "transform": [{"filter": "datum.p === 'R2'"}],
             "mark": {"type": "point", "filled": true, "size": 121, "opacity": 1, "color": "#3a9a3a"},
             "encoding": {"shape": {"field": "dir", "type": "nominal", "legend": null, "scale": {"domain": ["down","up","left","right"], "range": ["M0,0L-0.7,-1.7L0.7,-1.7Z","M0,0L-0.7,1.7L0.7,1.7Z","M0,0L-1.3,-1L-1.3,1Z","M0,0L1.3,-1L1.3,1Z"]}}}},
            {"data": {"name": "ends"}, "transform": [{"filter": "datum.p === 'R2'"}],
             "mark": {"type": "text", "align": "left", "baseline": "middle", "dx": 3, "fontSize": 14},
             "encoding": {"text": {"field": "lab", "type": "nominal"}, "color": {"field": "s", "type": "nominal", "legend": null, "scale": {"domain": ["Imag V","Imag C","Imag F","Real V","Real C","Real F","SWR V","SWR C","SWR F"], "range": ["#3f6fd8","#3a3aa8","#3a3aa8","#8b8a2c","#3aa548","#3aa548","#6cc76c","#2f9a3a","#2f9a3a"]}}}},
            {"data": {"name": "markers"}, "transform": [{"filter": "datum.p === 'R2'"}, {"calculate": "datum.m === 1 ? 'down' : 'up'", "as": "dir"}],
             "mark": {"type": "point", "filled": false, "size": 100, "strokeWidth": 1.5, "opacity": 1},
             "encoding": {
               "x": {"field": "f", "type": "quantitative", "scale": {"domain": [1.5, 1.7], "nice": false, "zero": false}, "axis": {"orient": "bottom", "title": null, "values": [1.6147368, 1.6273684, 1.6431579], "grid": false, "labelExpr": "datum.value < 1.62 ? '▲' : '△'", "labelFont": "DejaVu Sans", "labelFontSize": 14, "labelColor": "#3a9a3a", "labelPadding": 1}},
               "color": {"field": "s", "type": "nominal", "legend": null, "scale": {"domain": ["Imag V","Imag C","Imag F","Real V","Real C","Real F","SWR V","SWR C","SWR F"], "range": ["#3f6fd8","#3a3aa8","#3a3aa8","#8b8a2c","#3aa548","#3aa548","#6cc76c","#2f9a3a","#2f9a3a"]}},
               "shape": {"field": "dir", "type": "nominal", "legend": null, "scale": {"domain": ["down","up","left","right"], "range": ["M0,0L-0.7,-1.7L0.7,-1.7Z","M0,0L-0.7,1.7L0.7,1.7Z","M0,0L-1.3,-1L-1.3,1Z","M0,0L1.3,-1L1.3,1Z"]}}
             }},
            {"data": {"name": "markers"}, "transform": [{"filter": "datum.p === 'R2' && datum.m === 1"}],
             "mark": {"type": "text", "baseline": "bottom", "dy": -9, "fontSize": 14},
             "encoding": {"text": {"field": "m", "type": "nominal"}, "color": {"field": "s", "type": "nominal", "legend": null, "scale": {"domain": ["Imag V","Imag C","Imag F","Real V","Real C","Real F","SWR V","SWR C","SWR F"], "range": ["#3f6fd8","#3a3aa8","#3a3aa8","#8b8a2c","#3aa548","#3aa548","#6cc76c","#2f9a3a","#2f9a3a"]}}}},
            {"data": {"name": "markers"}, "transform": [{"filter": "datum.p === 'R2' && datum.m !== 1"}],
             "mark": {"type": "text", "baseline": "top", "dy": 9, "fontSize": 14},
             "encoding": {"text": {"field": "m", "type": "nominal"}, "color": {"field": "s", "type": "nominal", "legend": null, "scale": {"domain": ["Imag V","Imag C","Imag F","Real V","Real C","Real F","SWR V","SWR C","SWR F"], "range": ["#3f6fd8","#3a3aa8","#3a3aa8","#8b8a2c","#3aa548","#3aa548","#6cc76c","#2f9a3a","#2f9a3a"]}}}},
            {"data": {"name": "markers"}, "transform": [{"filter": "datum.p === 'R2' && datum.read && datum.m === 1"}, {"calculate": "(datum.m === 1 ? '>' : '\u2800') + datum.m + '\u00a0\u00a0' + format(datum.f, '.7f') + '\u00a0GHz\u00a0\u00a0' + format(datum.v, '.5r') + datum.unit", "as": "txt"}],
             "mark": {"type": "text", "align": "left", "baseline": "middle", "dx": 1, "dy": 10, "fontSize": 16.5, "color": "#3a9a3a"},
             "encoding": {"x": {"datum": 1.5, "type": "quantitative", "axis": null}, "y": {"datum": 6, "type": "quantitative", "axis": null}, "text": {"field": "txt", "type": "nominal"}}},
            {"data": {"name": "markers"}, "transform": [{"filter": "datum.p === 'R2' && datum.read && datum.m === 2"}, {"calculate": "(datum.m === 1 ? '>' : '\u2800') + datum.m + '\u00a0\u00a0' + format(datum.f, '.7f') + '\u00a0GHz\u00a0\u00a0' + format(datum.v, '.5r') + datum.unit", "as": "txt"}],
             "mark": {"type": "text", "align": "left", "baseline": "middle", "dx": 1, "dy": 27, "fontSize": 16.5, "color": "#3a9a3a"},
             "encoding": {"x": {"datum": 1.5, "type": "quantitative", "axis": null}, "y": {"datum": 6, "type": "quantitative", "axis": null}, "text": {"field": "txt", "type": "nominal"}}},
            {"data": {"name": "markers"}, "transform": [{"filter": "datum.p === 'R2' && datum.read && datum.m === 3"}, {"calculate": "(datum.m === 1 ? '>' : '\u2800') + datum.m + '\u00a0\u00a0' + format(datum.f, '.7f') + '\u00a0GHz\u00a0\u00a0' + format(datum.v, '.5r') + datum.unit", "as": "txt"}],
             "mark": {"type": "text", "align": "left", "baseline": "middle", "dx": 1, "dy": 43, "fontSize": 16.5, "color": "#3a9a3a"},
             "encoding": {"x": {"datum": 1.5, "type": "quantitative", "axis": null}, "y": {"datum": 6, "type": "quantitative", "axis": null}, "text": {"field": "txt", "type": "nominal"}}}
          ],
          "resolve": {"axis": {"x": "independent", "y": "independent"}}
        }
      ]
    }
  ]
}
